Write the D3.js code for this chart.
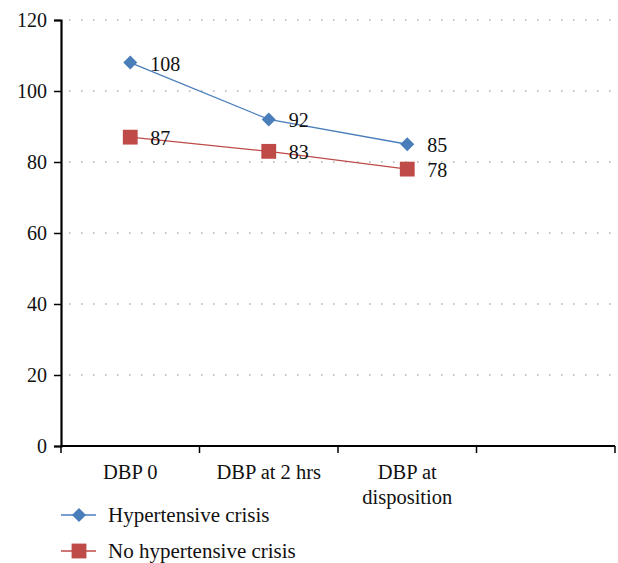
<!DOCTYPE html>
<meta charset="utf-8">
<title>DBP chart</title>
<style>
body { margin: 0; background: #fff; }
text { font-family: "Liberation Serif", "Times New Roman", serif; fill: #111; }
.grid line { stroke: #888; stroke-width: 1.2; stroke-dasharray: 1.5 10.5; }
</style>
<body>
<script src="https://d3js.org/d3.v7.min.js"></script>
<script>

// data
var categories = ["DBP 0", "DBP at 2 hrs", "DBP at disposition", ""];
var catLines = [["DBP 0"], ["DBP at 2 hrs"], ["DBP at", "disposition"], []];
var crisis = [108, 92, 85];
var noCrisis = [87, 83, 78];
var seriesNames = ["Hypertensive crisis", "No hypertensive crisis"];
var yTicks = [0, 20, 40, 60, 80, 100, 120];

var width = 618, height = 563;
var mLeft = 61, mRight = 615, mTop = 20, mBottom = 446;

var svg = d3.select("body").append("svg")
    .attr("width", width)
    .attr("height", height);

var x = d3.scaleBand().domain(categories.map(function(d, i) { return i; }))
    .range([mLeft, mRight]);
var y = d3.scaleLinear().domain([0, 120]).range([mBottom, mTop]);

// dotted gridlines
svg.append("g").attr("class", "grid")
  .selectAll("line")
    .data(yTicks.slice(1))
  .enter().append("line")
    .attr("x1", mLeft + 8)
    .attr("x2", mRight)
    .attr("y1", function(d) { return y(d); })
    .attr("y2", function(d) { return y(d); });

// y axis
var yAxis = svg.append("g")
    .attr("transform", "translate(" + mLeft + ",0)")
    .call(d3.axisLeft(y).tickValues(yTicks).tickSize(7).tickPadding(7));
yAxis.select(".domain").attr("stroke", "#000").attr("stroke-width", 2.2);
yAxis.selectAll(".tick line").attr("stroke", "#000").attr("stroke-width", 1.5);
yAxis.selectAll(".tick text")
    .style("font-size", "20px")
    .attr("fill", "#111");

// x axis
var xAxis = svg.append("g")
    .attr("transform", "translate(0," + mBottom + ")");
xAxis.append("line")
    .attr("x1", mLeft).attr("x2", mRight)
    .attr("stroke", "#000").attr("stroke-width", 2.2);
xAxis.selectAll(".xt")
    .data(d3.range(categories.length + 1))
  .enter().append("line")
    .attr("class", "xt")
    .attr("x1", function(i) { return mLeft + i * x.bandwidth(); })
    .attr("x2", function(i) { return mLeft + i * x.bandwidth(); })
    .attr("y1", 0).attr("y2", 7)
    .attr("stroke", "#000").attr("stroke-width", 1.5);

var catText = xAxis.selectAll(".cat")
    .data(catLines)
  .enter().append("text")
    .attr("class", "cat")
    .attr("text-anchor", "middle")
    .style("font-size", "20.5px")
    .attr("x", function(d, i) { return x(i) + x.bandwidth() / 2; })
    .attr("y", 33);
catText.selectAll("tspan")
    .data(function(d) { return d; })
  .enter().append("tspan")
    .attr("x", function() { return d3.select(this.parentNode).attr("x"); })
    .attr("dy", function(d, i) { return i === 0 ? 0 : 25; })
    .text(function(d) { return d; });

var blue = "#4a7ebb", red = "#be4b48";

function cx(i) { return x(i) + x.bandwidth() / 2; }

var line = d3.line()
    .x(function(d, i) { return cx(i); })
    .y(function(d) { return y(d); });

var diamond = d3.symbol().type(d3.symbolDiamond2).size(125);
var square = d3.symbol().type(d3.symbolSquare).size(220);

function drawSeries(values, color, sym) {
  svg.append("path")
      .datum(values)
      .attr("d", line)
      .attr("fill", "none")
      .attr("stroke", color)
      .attr("stroke-width", 1.3);
  svg.append("g").selectAll("path")
      .data(values)
    .enter().append("path")
      .attr("d", sym)
      .attr("transform", function(d, i) { return "translate(" + cx(i) + "," + y(d) + ")"; })
      .attr("fill", color);
  svg.append("g").selectAll("text")
      .data(values)
    .enter().append("text")
      .attr("x", function(d, i) { return cx(i) + 20; })
      .attr("y", function(d) { return y(d) + 1; })
      .attr("dy", "0.35em")
      .style("font-size", "20px")
      .text(function(d) { return d; });
}

drawSeries(crisis, blue, diamond);
drawSeries(noCrisis, red, square);

// legend
var legend = svg.append("g").selectAll("g")
    .data(seriesNames)
  .enter().append("g")
    .attr("transform", function(d, i) { return "translate(0," + (515 + i * 36) + ")"; });
legend.append("line")
    .attr("x1", 61).attr("x2", 96)
    .attr("stroke", function(d, i) { return i ? red : blue; })
    .attr("stroke-width", 1.5);
legend.append("path")
    .attr("d", function(d, i) { return i ? square() : diamond(); })
    .attr("transform", "translate(79,0)")
    .attr("fill", function(d, i) { return i ? red : blue; });
legend.append("text")
    .attr("x", 108)
    .attr("dy", "0.35em")
    .style("font-size", "21px")
    .text(function(d) { return d; });

</script>
</body>
